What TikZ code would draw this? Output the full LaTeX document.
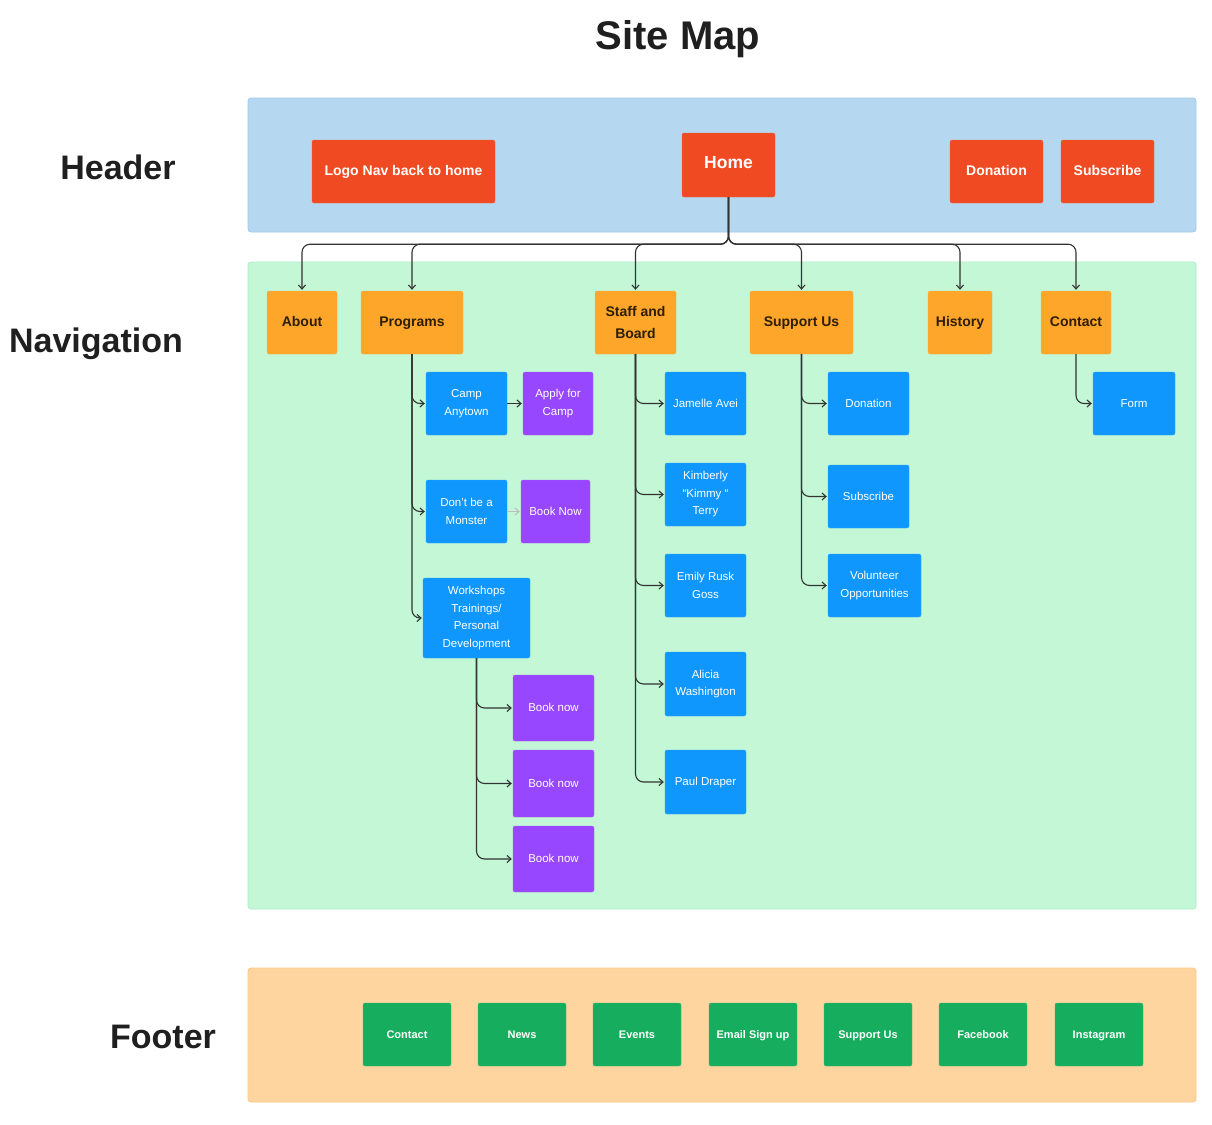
\documentclass[tikz,border=0pt]{standalone}
\usepackage{fontspec}
\setmainfont{Liberation Sans}
\usetikzlibrary{arrows.meta}
\definecolor{hbg}{HTML}{B5D8F0}
\definecolor{hbd}{HTML}{9FCBEE}
\definecolor{nbg}{HTML}{C3F7D6}
\definecolor{nbd}{HTML}{ACEEC4}
\definecolor{fbg}{HTML}{FED59E}
\definecolor{fbd}{HTML}{FCC887}
\definecolor{cred}{HTML}{F04A23}
\definecolor{corange}{HTML}{FEA62A}
\definecolor{cblue}{HTML}{0F97FE}
\definecolor{cpurple}{HTML}{9747FF}
\definecolor{cgreen}{HTML}{16AE5E}
\definecolor{cline}{HTML}{333333}
\definecolor{otext}{HTML}{2E1E05}
\tikzset{
  sz/.style 2 args={minimum width=#1, minimum height=#2},
  box/.style={rectangle, rounded corners=2, inner sep=0pt, align=center},
  one/.style={text height=0.72em, text depth=0pt},
  redbox/.style={box, fill=cred, draw=cred!85!white, text=white, font=\bfseries\fontsize{14}{18}\selectfont},
  orbox/.style={box, fill=corange, draw=corange!85!white, text=otext, font=\bfseries\fontsize{14}{22}\selectfont},
  bluebox/.style={box, fill=cblue, draw=cblue!85!white, text=white, font=\fontsize{11.5}{17.5}\selectfont},
  purbox/.style={box, fill=cpurple, draw=cpurple!85!white, text=white, font=\fontsize{11.5}{17.5}\selectfont},
  grbox/.style={box, one, fill=cgreen, draw=cgreen!85!white, text=white, font=\bfseries\fontsize{11}{13}\selectfont, sz={88}{63}},
  band/.style={rounded corners=3, line width=0.8pt},
  biglabel/.style={font=\bfseries\fontsize{34}{36}\selectfont, text=black!88},
  conn/.style={draw=cline, line width=1.1pt, rounded corners=8, -{Straight Barb[length=4pt,width=7pt]}, shorten >=1pt},
}
\begin{document}
\begin{tikzpicture}[x=1pt, y=-1pt]
\useasboundingbox[fill=white] (0,0) rectangle (1212,1124);
% title and labels
\node[font=\bfseries\fontsize{40}{44}\selectfont, text=black!88] (title) at (678,39) {Site Map};
\node[biglabel] (lh) at (118,167) {Header};
\node[biglabel] (ln) at (96,344) {Navigation};
\node[biglabel] (lf) at (163,1037) {Footer};
% bands
\filldraw[band, fill=hbg, draw=hbd] (248,98) rectangle (1196,232);
\filldraw[band, fill=nbg, draw=nbd] (248,262) rectangle (1196,909);
\filldraw[band, fill=fbg, draw=fbd] (248,968) rectangle (1196,1102);
% header
\node[redbox, one, sz={183}{63}] (logo) at (403.5,171.5) {Logo Nav back to home};
\node[redbox, one, sz={93}{64}, font=\bfseries\fontsize{17.5}{20}\selectfont] (home) at (728.5,165) {Home};
\node[redbox, one, sz={93}{63}] (hdon) at (996.5,171.5) {Donation};
\node[redbox, one, sz={93}{63}] (hsub) at (1107.5,171.5) {Subscribe};
% navigation top level
\node[orbox, one, sz={70}{63}] (about) at (302,322.5) {About};
\node[orbox, one, sz={102}{63}] (programs) at (412,322.5) {Programs};
\node[orbox, sz={81}{63}] (staff) at (635.5,322.5) {Staff and\\Board};
\node[orbox, one, sz={103}{63}] (support) at (801.5,322.5) {Support Us};
\node[orbox, one, sz={64}{63}] (history) at (960,322.5) {History};
\node[orbox, one, sz={70}{63}] (contact) at (1076,322.5) {Contact};
% programs
\node[bluebox, sz={81}{63}] (camp) at (466.5,403.5) {Camp\\Anytown};
\node[purbox, sz={70}{63}] (apply) at (558,403.5) {Apply for\\Camp};
\node[bluebox, sz={81}{63}] (monster) at (466.5,511.5) {Don’t be a\\Monster};
\node[purbox, one, sz={69}{63}] (booknow) at (555.5,511.5) {Book Now};
\node[bluebox, sz={107}{80}] (workshops) at (476.5,618) {Workshops\\Trainings/\\Personal\\Development};
\node[purbox, one, sz={81}{66}] (bn1) at (553.5,708) {Book now};
\node[purbox, one, sz={81}{67}] (bn2) at (553.5,783.5) {Book now};
\node[purbox, one, sz={81}{66}] (bn3) at (553.5,859) {Book now};
% staff
\node[bluebox, one, sz={81}{63}] (jamelle) at (705.5,403.5) {Jamelle Avei};
\node[bluebox, sz={81}{63}] (kimberly) at (705.5,494.5) {Kimberly\\“Kimmy “\\Terry};
\node[bluebox, sz={81}{63}] (emily) at (705.5,585.5) {Emily Rusk\\Goss};
\node[bluebox, sz={81}{64}] (alicia) at (705.5,684) {Alicia\\Washington};
\node[bluebox, one, sz={81}{64}] (paul) at (705.5,782) {Paul Draper};
% support
\node[bluebox, one, sz={81}{63}] (sdon) at (868.5,403.5) {Donation};
\node[bluebox, one, sz={81}{63}] (ssub) at (868.5,496.5) {Subscribe};
\node[bluebox, sz={93}{63}] (vol) at (874.5,585.5) {Volunteer\\Opportunities};
% contact
\node[bluebox, one, sz={82}{63}] (form) at (1134,403.5) {Form};
% footer
\node[grbox] (f1) at (407,1034.5) {Contact};
\node[grbox] (f2) at (522,1034.5) {News};
\node[grbox] (f3) at (637,1034.5) {Events};
\node[grbox] (f4) at (753,1034.5) {Email Sign up};
\node[grbox] (f5) at (868,1034.5) {Support Us};
\node[grbox] (f6) at (983,1034.5) {Facebook};
\node[grbox] (f7) at (1099,1034.5) {Instagram};
% connectors from home
\foreach \t in {about,programs,staff,support,history,contact}
  \draw[conn] (home.south) -- ++(0,47) -| (\t.north);
% programs
\foreach \t in {camp,monster,workshops}
  \draw[conn] (programs.south) |- (\t.west);
\draw[conn, rounded corners=0] (camp.east) -- (apply.west);
\draw[conn, rounded corners=0, draw=black!25] (monster.east) -- (booknow.west);
\foreach \t in {bn1,bn2,bn3}
  \draw[conn] (workshops.south) |- (\t.west);
% staff
\foreach \t in {jamelle,kimberly,emily,alicia,paul}
  \draw[conn] (staff.south) |- (\t.west);
% support
\foreach \t in {sdon,ssub,vol}
  \draw[conn] (support.south) |- (\t.west);
% contact
\draw[conn] (contact.south) |- (form.west);
\end{tikzpicture}
\end{document}
